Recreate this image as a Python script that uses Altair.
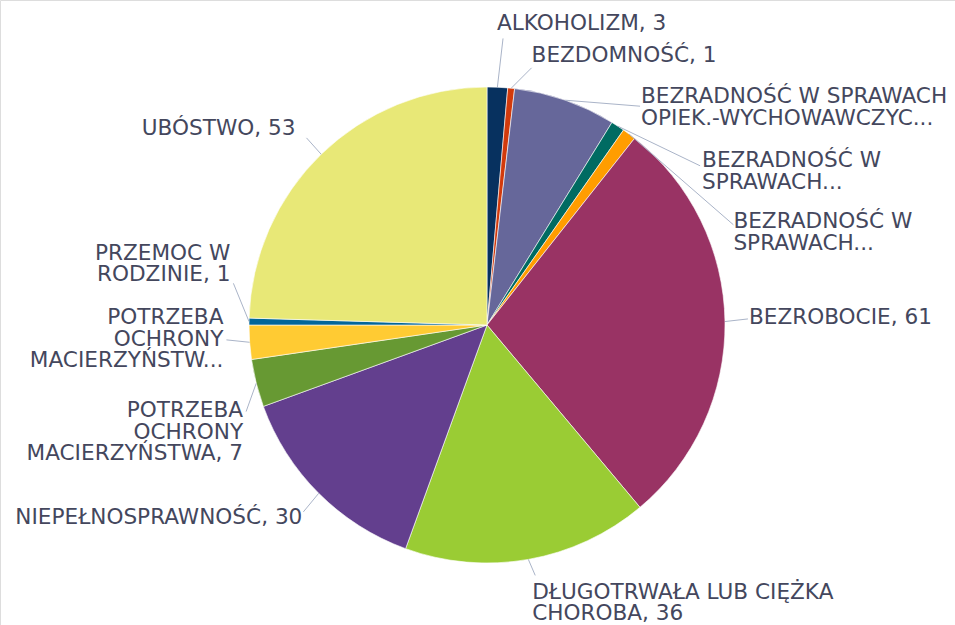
import math
import altair as alt
import pandas as pd

# ---- data ----
categories = [
    "ALKOHOLIZM",
    "BEZDOMNOŚĆ",
    "BEZRADNOŚĆ W SPRAWACH OPIEK.-WYCHOWAWCZYCH",
    "BEZRADNOŚĆ W SPRAWACH OPIEK.-WYCHOWAWCZYCH - RODZINY NIEPEŁNE",
    "BEZRADNOŚĆ W SPRAWACH OPIEK.-WYCHOWAWCZYCH - RODZINY WIELODZIETNE",
    "BEZROBOCIE",
    "DŁUGOTRWAŁA LUB CIĘŻKA CHOROBA",
    "NIEPEŁNOSPRAWNOŚĆ",
    "POTRZEBA OCHRONY MACIERZYŃSTWA",
    "POTRZEBA OCHRONY MACIERZYŃSTWA - WIELODZIETNOŚĆ",
    "PRZEMOC W RODZINIE",
    "UBÓSTWO",
]
values = [3, 1, 15, 2, 2, 61, 36, 30, 7, 5, 1, 53]
labels = [
    "ALKOHOLIZM, 3",
    "BEZDOMNOŚĆ, 1",
    "BEZRADNOŚĆ W SPRAWACH\nOPIEK.-WYCHOWAWCZYC...",
    "BEZRADNOŚĆ W\nSPRAWACH...",
    "BEZRADNOŚĆ W\nSPRAWACH...",
    "BEZROBOCIE, 61",
    "DŁUGOTRWAŁA LUB CIĘŻKA\nCHOROBA, 36",
    "NIEPEŁNOSPRAWNOŚĆ, 30",
    "POTRZEBA\nOCHRONY\nMACIERZYŃSTWA, 7",
    "POTRZEBA\nOCHRONY\nMACIERZYŃSTW...",
    "PRZEMOC W\nRODZINIE, 1",
    "UBÓSTWO, 53",
]

# ---- styles ----
colors = ["#07315f", "#d23a0c", "#66679a", "#006b62", "#ff9d00", "#993364",
          "#9acc34", "#633f8e", "#679933", "#ffcb33", "#02669a", "#e8e877"]

# ---- label layout (leader-line end relative to slice mid angle, text block nudge) ----
end_shift_deg = [0.7, 4.0, 15.8, 19.9, 31.2, -0.5, -0.9, -0.5, -5.6, 0.9, 8.5, 0.2]
end_radius = [287, 261, 267, 266, 266, 261, 255, 262, 256, 261, 257, 260]
text_dx = [-6, 0, 1, 2, 0, 1, -3, -1, -3, -3, -3, -11]
text_dy = [-14, -12, 2, 6, 8, -1, 28, 6, 21, 0, -19, -9]
align = ["left"] * 7 + ["right"] * 5

CX, CY, R = 487, 325, 238
LH = 21.5

df = pd.DataFrame({
    "idx": list(range(len(values))),
    "k": categories,
    "v": values,
    "label": labels,
    "shift": end_shift_deg,
    "er": end_radius,
    "tdx": text_dx,
    "tdy": text_dy,
    "align": align,
})

base = alt.Chart(df)

pie = base.mark_arc(outerRadius=R, stroke="white", strokeWidth=0.6).encode(
    theta=alt.Theta("v:Q", stack=True),
    order=alt.Order("idx:Q"),
    color=alt.Color("k:N", scale=alt.Scale(domain=categories, range=colors), legend=None),
    x=alt.value(CX),
    y=alt.value(CY),
)

geo = base.transform_joinaggregate(
    total="sum(v)"
).transform_window(
    cum="sum(v)", sort=[alt.SortField("idx")], frame=[None, 0]
).transform_calculate(
    mid="(datum.cum - datum.v / 2) / datum.total * 2 * PI",
    nl="length(split(datum.label, '\\n'))",
).transform_calculate(
    sx=f"{CX} + {R} * sin(datum.mid)",
    sy=f"{CY} - {R} * cos(datum.mid)",
    ea="datum.mid + datum.shift * PI / 180",
).transform_calculate(
    ex=f"{CX} + datum.er * sin(datum.ea)",
    ey=f"{CY} - datum.er * cos(datum.ea)",
).transform_calculate(
    tx="datum.ex + datum.tdx",
    ty=f"datum.ey + datum.tdy - (datum.nl - 1) * {LH} / 2",
)

lines = geo.mark_rule(color="#aab4c8", strokeWidth=1).encode(
    x=alt.X("sx:Q", scale=None, axis=None),
    y=alt.Y("sy:Q", scale=None, axis=None),
    x2="ex:Q",
    y2="ey:Q",
)

text_style = dict(font="DejaVu Sans", fontSize=21.6, color="#44475d",
                  lineBreak="\n", lineHeight=LH, baseline="middle")

left_text = geo.transform_filter("datum.align == 'left'").mark_text(
    align="left", **text_style
).encode(
    x=alt.X("tx:Q", scale=None, axis=None),
    y=alt.Y("ty:Q", scale=None, axis=None),
    text="label:N",
)

right_text = geo.transform_filter("datum.align == 'right'").mark_text(
    align="right", **text_style
).encode(
    x=alt.X("tx:Q", scale=None, axis=None),
    y=alt.Y("ty:Q", scale=None, axis=None),
    text="label:N",
)

chart = alt.layer(pie, lines, left_text, right_text).properties(
    width=955, height=625,
    autosize=alt.AutoSizeParams(type="none"),
    padding=0,
).configure_view(stroke=None).configure(background="white")

chart.save("out.html", embed_options={"renderer": "svg", "actions": False})
